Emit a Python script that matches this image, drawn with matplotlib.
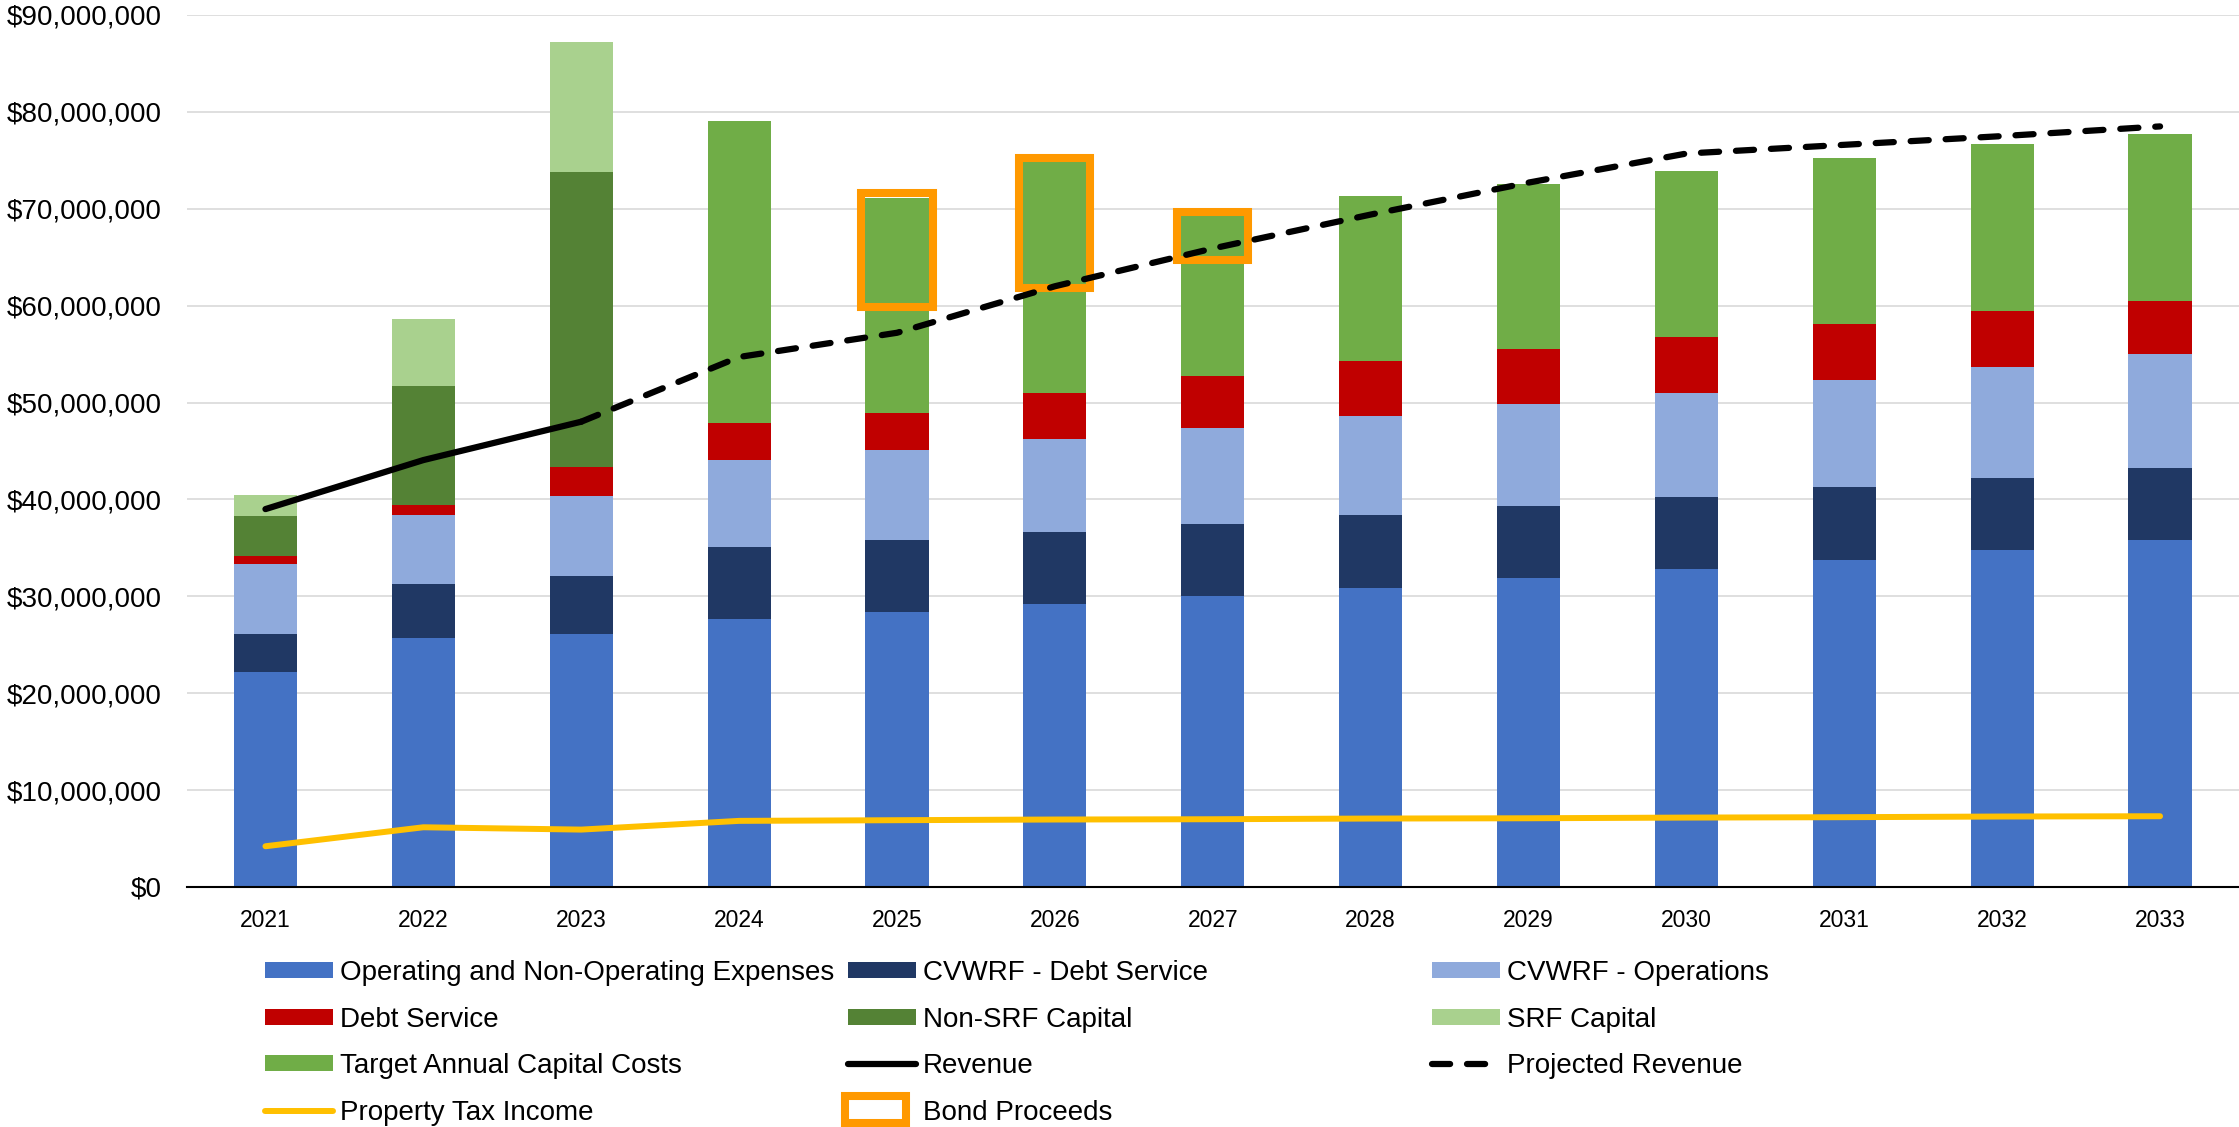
import numpy as np
import matplotlib.pyplot as plt
import matplotlib.patches as mpatches
from matplotlib.legend_handler import HandlerPatch
from matplotlib.ticker import FuncFormatter, MultipleLocator

plt.rcParams['font.family'] = ['Liberation Sans', 'DejaVu Sans']

years = ['2021', '2022', '2023', '2024', '2025', '2026', '2027',
         '2028', '2029', '2030', '2031', '2032', '2033']

# values in $ millions
opex = [22.20, 25.65, 26.06, 27.62, 28.34, 29.17, 30.03, 30.89, 31.85, 32.78, 33.78, 34.81, 35.81]
cvwrf_debt = [3.86, 5.57, 6.02, 7.43, 7.44, 7.43, 7.47, 7.47, 7.44, 7.44, 7.47, 7.44, 7.48]
cvwrf_ops = [7.23, 7.16, 8.30, 9.03, 9.36, 9.65, 9.88, 10.23, 10.51, 10.78, 11.10, 11.41, 11.75]
debt_service = [0.82, 1.04, 2.92, 3.77, 3.76, 4.78, 5.39, 5.71, 5.72, 5.76, 5.78, 5.75, 5.40]
non_srf = [4.13, 12.28, 30.46, 0, 0, 0, 0, 0, 0, 0, 0, 0, 0]
srf = [2.21, 6.92, 13.42, 0, 0, 0, 0, 0, 0, 0, 0, 0, 0]
target_capital = [0, 0, 0, 31.21, 22.24, 23.79, 16.58, 16.98, 17.07, 17.14, 17.14, 17.24, 17.31]

revenue = [39.0, 44.06, 48.02] + [np.nan] * 10
projected = [np.nan, np.nan, 48.02, 54.7, 57.2, 62.0, 65.9, 69.4, 72.7, 75.7, 76.6, 77.5, 78.5]
property_tax = [4.2, 6.16, 5.92, 6.82, 6.89, 6.96, 6.99, 7.06, 7.09, 7.16, 7.2, 7.27, 7.3]

bond_years = ['2025', '2026', '2027']
bond_base = [59.9, 61.8, 64.7]
bond_amount = [11.7, 13.4, 5.0]

M = 1e6
x = np.arange(len(years))

fig = plt.figure(figsize=(22.39, 11.27), dpi=100)
ax = fig.add_axes([0.0833, 0.213, 0.9167, 0.7737])

series = [
    (opex, '#4472C4', 'Operating and Non-Operating Expenses'),
    (cvwrf_debt, '#203864', 'CVWRF - Debt Service'),
    (cvwrf_ops, '#8FAADC', 'CVWRF - Operations'),
    (debt_service, '#C00000', 'Debt Service'),
    (non_srf, '#548235', 'Non-SRF Capital'),
    (srf, '#A9D18E', 'SRF Capital'),
    (target_capital, '#70AD47', 'Target Annual Capital Costs'),
]

handles = {}
bottom = np.zeros(len(years))
for vals, col, lab in series:
    v = np.array(vals) * M
    handles[lab] = ax.bar(x, v, 0.4, bottom=bottom, color=col, label=lab, zorder=2)
    bottom += v

bx = [years.index(y) for y in bond_years]
bond = ax.bar(bx, np.array(bond_amount) * M, 0.45,
              bottom=np.array(bond_base) * M, facecolor='none',
              edgecolor='#FF9900', linewidth=5.8, zorder=3,
              label='Bond Proceeds')
handles['Bond Proceeds'] = bond.patches[0]

handles['Revenue'], = ax.plot(x, np.array(revenue) * M, color='black', lw=4.5,
                              solid_capstyle='round', solid_joinstyle='round',
                              zorder=4, label='Revenue')
handles['Projected Revenue'], = ax.plot(x, np.array(projected) * M, color='black', lw=4.5,
                                        dashes=(2.9, 2.7), dash_capstyle='round',
                                        dash_joinstyle='round', zorder=4,
                                        label='Projected Revenue')
handles['Property Tax Income'], = ax.plot(x, np.array(property_tax) * M, color='#FFC000',
                                          lw=4.3, solid_capstyle='round',
                                          solid_joinstyle='round', zorder=4,
                                          label='Property Tax Income')

ax.set_xlim(-0.5, len(years) - 0.5)
ax.set_ylim(0, 90 * M)
ax.yaxis.set_major_locator(MultipleLocator(10 * M))
ax.yaxis.set_major_formatter(FuncFormatter(lambda v, p: '${:,.0f}'.format(v)))
ax.set_xticks(x)
ax.set_xticklabels(years)
ax.tick_params(axis='y', length=0, pad=18, labelsize=20)
ax.tick_params(axis='x', length=0, pad=16, labelsize=16.5)
ax.grid(axis='y', color='#D9D9D9', lw=1.2, zorder=0)
ax.set_axisbelow(True)
for s in ['left', 'right', 'top']:
    ax.spines[s].set_visible(False)
ax.spines['bottom'].set_color('black')
ax.spines['bottom'].set_linewidth(1.5)
ax.spines['bottom'].set_zorder(5)


# bigger outlined box for the bond proceeds legend entry
def bond_box(legend, orig_handle, xdescent, ydescent, width, height, fontsize):
    return mpatches.Rectangle((-xdescent - 2, -ydescent - 0.35 * height),
                              width * 0.9, height * 1.7)


columns = [
    ['Operating and Non-Operating Expenses', 'Debt Service', 'Target Annual Capital Costs', 'Property Tax Income'],
    ['CVWRF - Debt Service', 'Non-SRF Capital', 'Revenue', 'Bond Proceeds'],
    ['CVWRF - Operations', 'SRF Capital', 'Projected Revenue'],
]
col_x = [265, 848, 1432]
for labs, cx in zip(columns, col_x):
    fig.legend([handles[l] for l in labs], labs, loc='upper left',
               bbox_to_anchor=(cx / 2239, 1 - 960 / 1127), frameon=False,
               fontsize=20, handlelength=2.45, handleheight=0.5,
               handletextpad=0.25, labelspacing=0.74, borderpad=0,
               borderaxespad=0,
               handler_map={handles['Bond Proceeds']: HandlerPatch(patch_func=bond_box)})

fig.savefig('out.png', dpi=100)
